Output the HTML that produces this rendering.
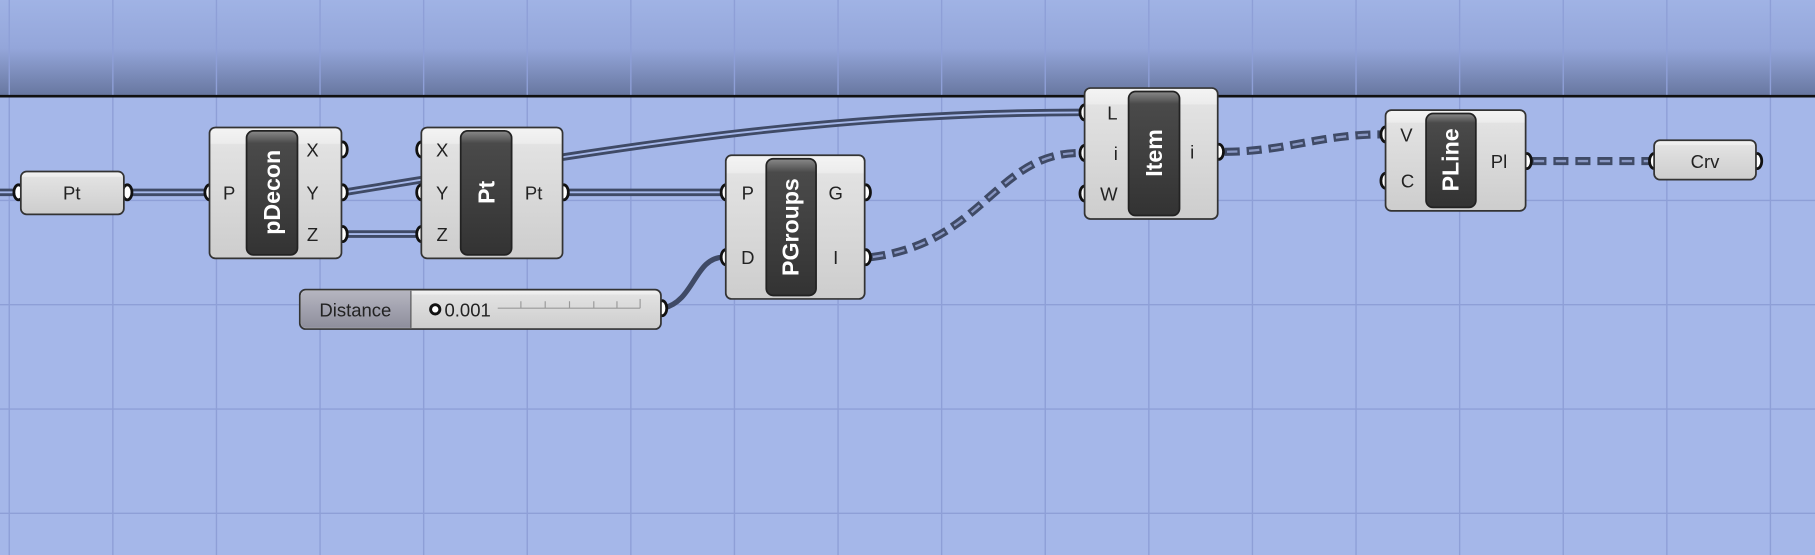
<!DOCTYPE html>
<html><head><meta charset="utf-8"><style>
html,body{margin:0;padding:0;background:#a5b7e9;overflow:hidden}
svg{display:block}
text{font-family:"Liberation Sans",sans-serif}
</style></head><body>
<svg width="1815" height="555" viewBox="0 0 1568 479" preserveAspectRatio="none" xmlns="http://www.w3.org/2000/svg">
<defs>
<linearGradient id="top" x1="0" y1="0" x2="0" y2="1">
<stop offset="0" stop-color="#a0b3e5"/><stop offset="0.5" stop-color="#94a6da"/><stop offset="1" stop-color="#67769f"/></linearGradient>
<linearGradient id="nd" x1="0" y1="0" x2="0" y2="1">
<stop offset="0" stop-color="#f4f4f4"/><stop offset="0.12" stop-color="#ececec"/><stop offset="0.13" stop-color="#e2e2e2"/><stop offset="1" stop-color="#cdcdcd"/></linearGradient>
<linearGradient id="pn" x1="0" y1="0" x2="0" y2="1">
<stop offset="0" stop-color="#8a8a8a"/><stop offset="0.1" stop-color="#4a4a4a"/><stop offset="1" stop-color="#333"/></linearGradient>
<linearGradient id="sl" x1="0" y1="0" x2="0" y2="1">
<stop offset="0" stop-color="#b5b5c0"/><stop offset="1" stop-color="#8e8e9c"/></linearGradient>
</defs>
<rect width="1568" height="479" fill="#a5b7e9"/>
<rect width="1568" height="83" fill="url(#top)"/>
<g stroke="#8e9fd7" stroke-width="1.2">
<line x1="8" y1="0" x2="8" y2="479"/><line x1="97.5" y1="0" x2="97.5" y2="479"/><line x1="187" y1="0" x2="187" y2="479"/><line x1="276.5" y1="0" x2="276.5" y2="479"/><line x1="366" y1="0" x2="366" y2="479"/><line x1="455.5" y1="0" x2="455.5" y2="479"/><line x1="545" y1="0" x2="545" y2="479"/><line x1="634.5" y1="0" x2="634.5" y2="479"/><line x1="724" y1="0" x2="724" y2="479"/><line x1="813.5" y1="0" x2="813.5" y2="479"/><line x1="903" y1="0" x2="903" y2="479"/><line x1="992.5" y1="0" x2="992.5" y2="479"/><line x1="1082" y1="0" x2="1082" y2="479"/><line x1="1171.5" y1="0" x2="1171.5" y2="479"/><line x1="1261" y1="0" x2="1261" y2="479"/><line x1="1350.5" y1="0" x2="1350.5" y2="479"/><line x1="1440" y1="0" x2="1440" y2="479"/><line x1="1529.5" y1="0" x2="1529.5" y2="479"/>
<line x1="0" y1="173" x2="1568" y2="173"/><line x1="0" y1="263" x2="1568" y2="263"/><line x1="0" y1="353" x2="1568" y2="353"/><line x1="0" y1="443" x2="1568" y2="443"/>
</g>
<line x1="0" y1="83" x2="1568" y2="83" stroke="#111" stroke-width="2.2"/>

<g fill="none" stroke-linecap="butt">
<g stroke="#3f4a66" stroke-width="6.5">
<path d="M0 166 H14"/><path d="M110 166 H178"/>
<path d="M297 166 C520 130 700 97 935 97"/>
<path d="M297 202 H362"/><path d="M488 166 H625"/>
</g>
<path d="M573 266 C600 260 600 222 625 222" stroke="#3f4a66" stroke-width="4.5"/>
<g stroke="#a5b7e9" stroke-width="1.6">
<path d="M0 166 H14"/><path d="M110 166 H178"/>
<path d="M297 166 C520 130 700 97 935 97"/>
<path d="M297 202 H362"/><path d="M488 166 H625"/>
</g>
<g stroke="#3f4a66" stroke-width="7" stroke-dasharray="13 6">
<path d="M752 222 C850 210 860 132 933 132"/>
<path d="M1058 131 C1110 131 1140 116 1193 116"/>
<path d="M1323 139 H1425"/>
</g>
<g stroke="#8a98c4" stroke-width="2" stroke-dasharray="9 10" stroke-dashoffset="-2">
<path d="M752 222 C850 210 860 132 933 132"/>
<path d="M1058 131 C1110 131 1140 116 1193 116"/>
<path d="M1323 139 H1425"/>
</g>
</g>

<g fill="#fff" stroke="#111" stroke-width="2.4">
<ellipse cx="16" cy="166" rx="4" ry="6.5"/><ellipse cx="110" cy="166" rx="4" ry="6.5"/>
<ellipse cx="181" cy="166" rx="4" ry="6.5"/>
<ellipse cx="296" cy="129" rx="4" ry="6.5"/><ellipse cx="296" cy="166" rx="4" ry="6.5"/><ellipse cx="296" cy="202" rx="4" ry="6.5"/>
<ellipse cx="364" cy="129" rx="4" ry="6.5"/><ellipse cx="364" cy="166" rx="4" ry="6.5"/><ellipse cx="364" cy="202" rx="4" ry="6.5"/>
<ellipse cx="487" cy="166" rx="4" ry="6.5"/>
<ellipse cx="627" cy="166" rx="4" ry="6.5"/><ellipse cx="627" cy="222" rx="4" ry="6.5"/>
<ellipse cx="748" cy="166" rx="4" ry="6.5"/><ellipse cx="748" cy="222" rx="4" ry="6.5"/>
<ellipse cx="572" cy="266" rx="4" ry="6.5"/>
<ellipse cx="937" cy="97" rx="4" ry="6.5"/><ellipse cx="937" cy="132" rx="4" ry="6.5"/><ellipse cx="937" cy="167" rx="4" ry="6.5"/>
<ellipse cx="1053" cy="131" rx="4" ry="6.5"/>
<ellipse cx="1197" cy="116" rx="4" ry="6.5"/><ellipse cx="1197" cy="156" rx="4" ry="6.5"/>
<ellipse cx="1319" cy="139" rx="4" ry="6.5"/>
<ellipse cx="1429" cy="139" rx="4" ry="6.5"/><ellipse cx="1518" cy="139" rx="4" ry="6.5"/>
</g>

<g stroke="#333" stroke-width="1.5" fill="url(#nd)">
<rect x="18" y="148" width="89" height="37" rx="5"/>
<rect x="181" y="110" width="114" height="113" rx="5"/>
<rect x="364" y="110" width="122" height="113" rx="5"/>
<rect x="627" y="134" width="120" height="124" rx="5"/>
<rect x="937" y="76" width="115" height="113" rx="5"/>
<rect x="1197" y="95" width="121" height="87" rx="5"/>
<rect x="1429" y="121" width="88" height="34" rx="5"/>
<rect x="259" y="250" width="312" height="34" rx="5"/>
</g>
<path d="M264 251 H355 V283 H264 Q260 283 260 279 V255 Q260 251 264 251Z" fill="url(#sl)"/>
<line x1="355" y1="251" x2="355" y2="283" stroke="#555" stroke-width="1"/>
<g stroke="#222" stroke-width="1.5" fill="url(#pn)">
<rect x="213" y="113" width="44" height="107" rx="6"/>
<rect x="398" y="113" width="44" height="107" rx="6"/>
<rect x="662" y="137" width="43" height="118" rx="6"/>
<rect x="975" y="79" width="44" height="107" rx="6"/>
<rect x="1232" y="98" width="43" height="81" rx="6"/>
</g>
<g fill="#fff" font-weight="bold" font-size="20" text-anchor="middle">
<text transform="translate(242 166) rotate(-90)">pDecon</text>
<text transform="translate(427 166) rotate(-90)">Pt</text>
<text transform="translate(690 196) rotate(-90)">PGroups</text>
<text transform="translate(1004 132) rotate(-90)">Item</text>
<text transform="translate(1260 138) rotate(-90)">PLine</text>
</g>
<g fill="#222" font-size="16" text-anchor="middle">
<text x="62" y="172">Pt</text>
<text x="198" y="172">P</text>
<text x="270" y="135">X</text><text x="270" y="172">Y</text><text x="270" y="208">Z</text>
<text x="382" y="135">X</text><text x="382" y="172">Y</text><text x="382" y="208">Z</text>
<text x="461" y="172">Pt</text>
<text x="646" y="172">P</text><text x="646" y="228">D</text>
<text x="722" y="172">G</text><text x="722" y="228">I</text>
<text x="961" y="103">L</text><text x="964" y="138">i</text><text x="958" y="173">W</text>
<text x="1030" y="137">i</text>
<text x="1215" y="122">V</text><text x="1216" y="162">C</text>
<text x="1295" y="145">Pl</text>
<text x="1473" y="145">Crv</text>
<text x="307" y="273">Distance</text>
<text x="404" y="273">0.001</text>
</g>
<circle cx="376" cy="267" r="4" fill="#fff" stroke="#111" stroke-width="2.5"/>
<g stroke="#999" stroke-width="1"><line x1="430" y1="266" x2="553" y2="266"/>
<line x1="450" y1="260" x2="450" y2="266"/><line x1="471" y1="260" x2="471" y2="266"/><line x1="492" y1="260" x2="492" y2="266"/><line x1="513" y1="260" x2="513" y2="266"/><line x1="533" y1="260" x2="533" y2="266"/><line x1="553" y1="258" x2="553" y2="266"/></g>
</svg>
</body></html>
